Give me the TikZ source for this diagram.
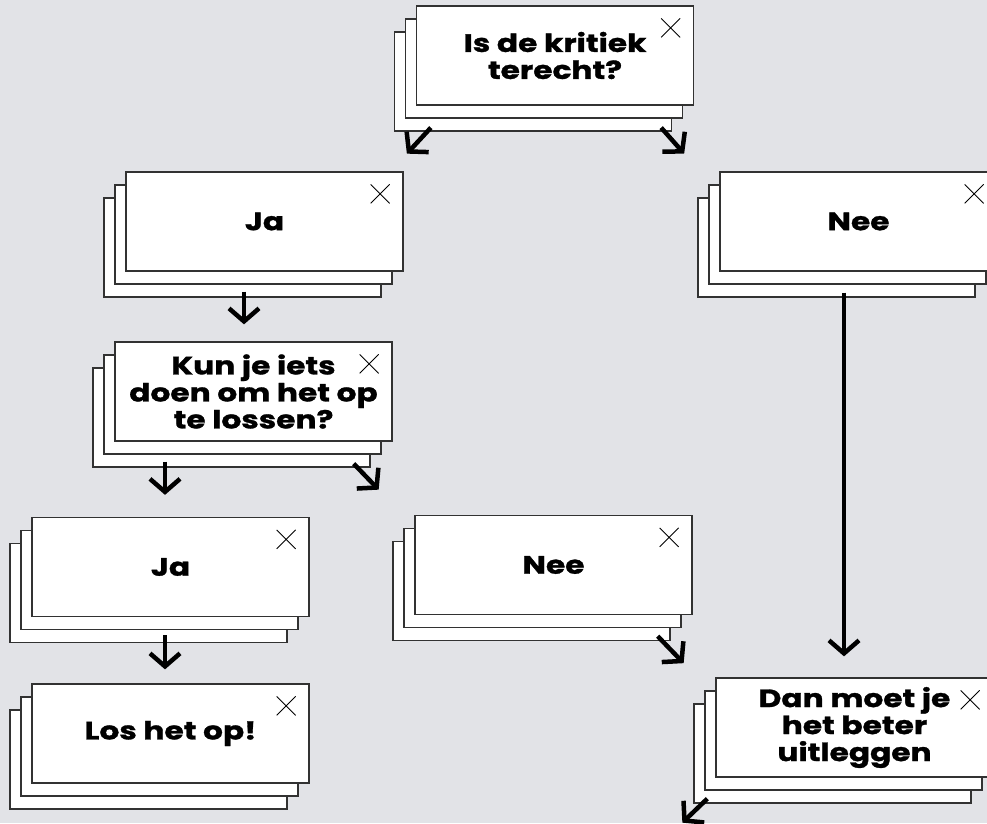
\documentclass[tikz,border=0pt]{standalone}
\usepackage{fontspec}
\setmainfont{Poppins}[FakeStretch=1.25, BoldFeatures={FakeBold=1.2}]
\usetikzlibrary{arrows.meta,shadows}
\definecolor{bg}{RGB}{226,227,231}
\definecolor{rim}{RGB}{50,50,50}

\begin{document}
\begin{tikzpicture}[x=1pt,y=-1pt,
  card/.style={draw=rim, line width=1.3pt, fill=white, minimum width=277pt, minimum height=99pt,
    align=center, font=\fontsize{25}{27}\selectfont\bfseries,
    general shadow={shadow xshift=-22pt, shadow yshift=-26pt, fill=white, draw=rim, line width=1.3pt},
    general shadow={shadow xshift=-11pt, shadow yshift=-13pt, fill=white, draw=rim, line width=1.3pt}},
  arr/.style={line width=4.5pt, -{Straight Barb[length=13pt,width=30pt]}},
  shut/.style={line width=0.8pt}]
\useasboundingbox (0,0) rectangle (987,823);
\fill[bg] (0,0) rectangle (987,823);
\node[card] (q1) at (555,55.5) {Is de kritiek\\terecht?};
\node[card] (ja1) at (264.5,221.5) {Ja};
\node[card] (nee1) at (858.5,221.5) {Nee};
\node[card] (q2) at (253.5,391.5) {Kun je iets\\doen om het op\\te lossen?};
\node[card] (ja2) at (170.5,567) {Ja};
\node[card] (nee2) at (553.5,565) {Nee};
\node[card] (los) at (170.5,733.5) {Los het op!};
\node[card] (dan) at (854.5,727.5) {Dan moet je\\het beter\\uitleggen};
\foreach \n in {q1,ja1,nee1,q2,ja2,nee2,los,dan}
  \draw[shut] ([shift={(-33,13)}]\n.north east) -- ++(19,19)
    ([shift={(-14,13)}]\n.north east) -- ++(-19,19);
\draw[arr] ([shift={(15,22)}]q1.south west) -- ++(-24,26);
\draw[arr] ([shift={(-33,22)}]q1.south east) -- ++(23,26);
\draw[arr] ([shift={(-20.5,20)}]ja1.south) -- ([shift={(-9.5,-17)}]q2.north);
\draw[arr] ([shift={(-14.5,21)}]nee1.south) -- ([shift={(-10.5,-21)}]dan.north);
\draw[arr] ([shift={(-88.5,20)}]q2.south) -- ([shift={(-5.5,-22)}]ja2.north);
\draw[arr] ([shift={(-39,22)}]q2.south east) -- ++(25,26);
\draw[arr] ([shift={(-5.5,18)}]ja2.south) -- ([shift={(-5.5,-14)}]los.north);
\draw[arr] ([shift={(-35,21)}]nee2.south east) -- ++(26,27);
\draw[arr] ([shift={(-8,21)}]dan.south west) -- ++(-25,24);
\end{tikzpicture}
\end{document}
